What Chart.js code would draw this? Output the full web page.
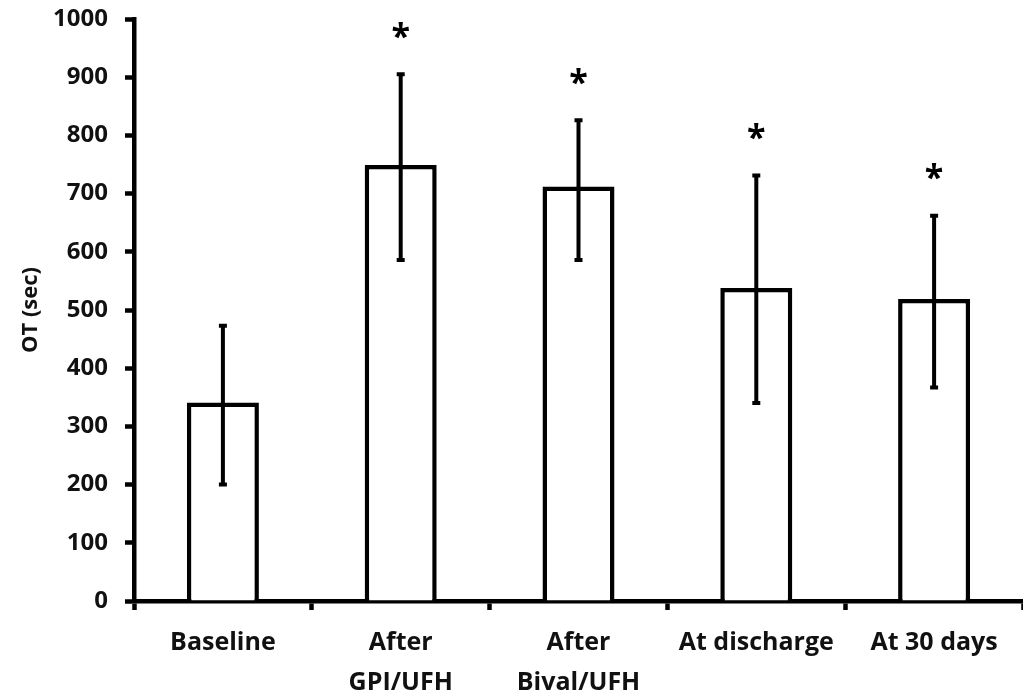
<!DOCTYPE html>
<html>
<head>
<meta charset="utf-8">
<script src="https://cdn.jsdelivr.net/npm/chart.js@4/dist/chart.umd.min.js"></script>
<style>
  html, body { margin: 0; padding: 0; background: #fff; }
  #wrap { width: 1023px; height: 699px; }
</style>
</head>
<body>
<div id="wrap"><canvas id="otChart"></canvas></div>
<script>
// values
const categories = ['Baseline', ['After', 'GPI/UFH'], ['After', 'Bival/UFH'], 'At discharge', 'At 30 days'];
const means = [341, 749, 712, 538, 519];
const errLow = [200, 586, 586, 340, 367];
const errHigh = [473, 905, 826, 731, 662];
const significant = [false, true, true, true, true];
const yTicks = [0, 100, 200, 300, 400, 500, 600, 700, 800, 900, 1000];

const FONT = '"Open Sans", "DejaVu Sans", sans-serif';

// error bars + asterisks, positioned through the chart's scales
const errorBars = {
    id: 'errorBars',
    afterDatasetsDraw(chart) {
        const ctx = chart.ctx;
        const y = chart.scales.y;
        const meta = chart.getDatasetMeta(0);
        ctx.save();
        ctx.strokeStyle = '#000';
        ctx.lineWidth = 4;
        meta.data.forEach((bar, i) => {
            const top = y.getPixelForValue(errHigh[i]);
            const bot = y.getPixelForValue(errLow[i]);
            ctx.beginPath();
            ctx.moveTo(bar.x, top);
            ctx.lineTo(bar.x, bot);
            ctx.moveTo(bar.x - 4, top);
            ctx.lineTo(bar.x + 4, top);
            ctx.moveTo(bar.x - 4, bot);
            ctx.lineTo(bar.x + 4, bot);
            ctx.stroke();
            if (significant[i]) {
                ctx.fillStyle = '#000';
                ctx.font = 'bold 34px ' + FONT;
                ctx.textAlign = 'center';
                ctx.textBaseline = 'middle';
                ctx.fillText('*', bar.x, top - 36);
            }
        });
        ctx.restore();
    }
};

new Chart(document.getElementById('otChart'), {
    type: 'bar',
    data: {
        labels: categories,
        datasets: [{
            data: means,
            backgroundColor: '#fff',
            borderColor: '#000',
            borderWidth: 4.5,
            borderSkipped: 'bottom',
            categoryPercentage: 1,
            barPercentage: 0.405
        }]
    },
    options: {
        responsive: true,
        maintainAspectRatio: false,
        animation: false,
        layout: { padding: { left: 14, top: 19, right: 0, bottom: 0 } },
        plugins: { legend: { display: false }, tooltip: { enabled: false } },
        scales: {
            x: {
                grid: {
                    offset: true,
                    drawOnChartArea: false,
                    tickLength: 9,
                    tickWidth: 4.5,
                    tickColor: '#000'
                },
                border: { color: '#000', width: 4.5 },
                ticks: {
                    color: '#111',
                    padding: 13,
                    maxRotation: 0,
                    font: { family: FONT, size: 25, weight: 'bold', lineHeight: 1.6 }
                },
                afterFit(scale) {
                    scale.height = 98;
                    scale.paddingLeft = 0;
                    scale.paddingRight = 0;
                }
            },
            y: {
                min: 0,
                max: 1000,
                afterBuildTicks(scale) { scale.ticks = yTicks.map(v => ({ value: v })); },
                grid: {
                    drawOnChartArea: false,
                    tickLength: 9,
                    tickWidth: 4.5,
                    tickColor: '#000'
                },
                border: { color: '#000', width: 4.5 },
                ticks: {
                    color: '#111',
                    padding: 17,
                    font: { family: FONT, size: 24, weight: 'bold' },
                    callback: v => String(v)
                },
                title: {
                    display: true,
                    text: 'OT (sec)',
                    color: '#111',
                    font: { family: FONT, size: 22, weight: 'bold' }
                },
                afterFit(scale) {
                    scale.width = 120;
                    scale.paddingTop = 0;
                    scale.paddingBottom = 0;
                }
            }
        }
    },
    plugins: [errorBars]
});
</script>
</body>
</html>
